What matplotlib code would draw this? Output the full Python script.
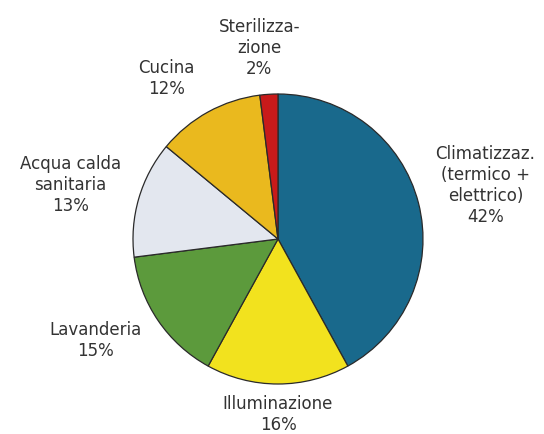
import matplotlib
matplotlib.use("Agg")
import matplotlib.pyplot as plt

# Energy consumption shares
categories = ["Climatizzaz.\n(termico +\nelettrico)", "Illuminazione", "Lavanderia",
              "Acqua calda\nsanitaria", "Cucina", "Sterilizza-\nzione"]
shares = [42, 16, 15, 13, 12, 2]
colors = ["#19698c", "#f2e21e", "#5c9a3c", "#e3e7ef", "#eab91e", "#c81a1a"]

# label anchor positions in axis units (pie radius = 1)
label_xy = [(1.43, 0.37), (0.0, -1.21), (-1.26, -0.70),
            (-1.43, 0.37), (-0.77, 1.11), (-0.13, 1.32)]

W, H = 544, 434
cx, cy, R = 278, 239, 145

fig = plt.figure(figsize=(W / 100, H / 100), dpi=100)
ax = fig.add_axes([0, 0, 1, 1])

ax.pie(shares, colors=colors, startangle=90, counterclock=False, radius=1,
       wedgeprops=dict(edgecolor="#2a2a2a", linewidth=0.9))

ax.set_xlim(-cx / R, (W - cx) / R)
ax.set_ylim((cy - H) / R, cy / R)
ax.set_aspect("equal")
ax.axis("off")

for name, val, (x, y) in zip(categories, shares, label_xy):
    ax.text(x, y, f"{name}\n{val}%", ha="center", va="center",
            fontsize=12, color="#333333", family="DejaVu Sans",
            linespacing=1.22)

fig.savefig("out.png", dpi=100)
